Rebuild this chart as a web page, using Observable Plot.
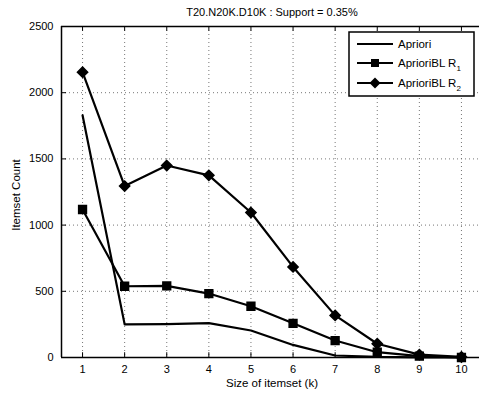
<!DOCTYPE html>
<html>
<head>
<meta charset="utf-8">
<script src="https://cdn.jsdelivr.net/npm/d3@7"></script>
<script src="https://cdn.jsdelivr.net/npm/@observablehq/plot@0.6"></script>
<style>
  html, body { margin: 0; padding: 0; background: #fff; overflow: hidden; }
  #chart svg { display: block; overflow: hidden; }
</style>
</head>
<body>
<div id="chart"></div>
<script>
const sizes = [1, 2, 3, 4, 5, 6, 7, 8, 9, 10];
const apriori = [1830, 250, 252, 260, 204, 95, 15, 4, 1, 0];
const aprioriR1 = [1118, 538, 541, 483, 387, 258, 128, 40, 10, 0];
const aprioriR2 = [2155, 1295, 1450, 1376, 1095, 684, 318, 104, 22, 4];
const yTicks = [0, 500, 1000, 1500, 2000, 2500];
const title = "T20.N20K.D10K : Support = 0.35%";
const xLabel = "Size of itemset (k)";
const yLabel = "Itemset Count";

const toRows = (vals, name) => sizes.map((k, i) => ({k, v: vals[i], name}));
const rowsA = toRows(apriori, "Apriori");
const rows1 = toRows(aprioriR1, "R1");
const rows2 = toRows(aprioriR2, "R2");

const font = "'Liberation Sans', Arial, Helvetica, sans-serif";

const plot = Plot.plot({
  width: 479,
  height: 394,
  marginLeft: 61,
  marginRight: -3,
  marginTop: 26,
  marginBottom: 37,
  style: {fontFamily: font, fontSize: "11px", color: "#000", background: "#fff"},
  x: {domain: [0.5, 10.5]},
  y: {domain: [0, 2500]},
  marks: [
    Plot.gridX(sizes, {stroke: "#666", strokeOpacity: 1, strokeDasharray: "1,3", strokeWidth: 0.9}),
    Plot.gridY(yTicks.slice(1, -1), {stroke: "#666", strokeOpacity: 1, strokeDasharray: "1,3", strokeWidth: 0.9}),
    Plot.axisX(sizes, {anchor: "bottom", tickSize: 0, tickPadding: 8, label: null, fontSize: 11, tickFormat: d3.format("d")}),
    Plot.axisY(yTicks, {anchor: "left", tickSize: 0, tickPadding: 8, label: null, fontSize: 11, tickFormat: d3.format("d")}),
    Plot.ruleX(sizes, {x: d => d, y1: 0, y2: 36, stroke: "#000", strokeWidth: 1}),
    Plot.ruleX(sizes, {x: d => d, y1: 2464, y2: 2500, stroke: "#000", strokeWidth: 1}),
    Plot.ruleY(yTicks, {y: d => d, x1: 0.5, x2: 0.62, stroke: "#000", strokeWidth: 1}),
    Plot.ruleY([0, 2500], {stroke: "#000", strokeWidth: 1.5}),
    Plot.ruleX([0.5], {stroke: "#000", strokeWidth: 1.5}),
    Plot.line(rowsA, {x: "k", y: "v", stroke: "#000", strokeWidth: 2.2}),
    Plot.line(rows1, {x: "k", y: "v", stroke: "#000", strokeWidth: 2.2}),
    Plot.dot(rows1, {x: "k", y: "v", symbol: "square", r: 4.4, fill: "#000", stroke: "#000"}),
    Plot.line(rows2, {x: "k", y: "v", stroke: "#000", strokeWidth: 2.2}),
    Plot.dot(rows2, {x: "k", y: "v", symbol: "diamond2", r: 4.6, fill: "#000", stroke: "#000"})
  ]
});

const svg = d3.select(plot);
// title and axis labels
svg.append("text").attr("x", 272).attr("y", 16).attr("text-anchor", "middle")
  .attr("font-family", font).attr("font-size", 11).attr("fill", "#000").text(title);
svg.append("text").attr("x", 272).attr("y", 387).attr("text-anchor", "middle")
  .attr("font-family", font).attr("font-size", 11.5).attr("fill", "#000").text(xLabel);
svg.append("text").attr("transform", "translate(20,195) rotate(-90)").attr("text-anchor", "middle")
  .attr("font-family", font).attr("font-size", 11.5).attr("fill", "#000").text(yLabel);

// legend
const lg = svg.append("g").attr("font-family", font).attr("font-size", 11.5).attr("text-anchor", "start");
lg.append("rect").attr("x", 349).attr("y", 32).attr("width", 125).attr("height", 64)
  .attr("fill", "#fff").attr("stroke", "#000").attr("stroke-width", 1.5);
const entries = [
  {sym: null, y: 44, plain: "Apriori"},
  {label: "AprioriBL R", sub: "1", sym: "square", y: 63},
  {label: "AprioriBL R", sub: "2", sym: "diamond", y: 83}
];
entries.forEach(e => {
  lg.append("line").attr("x1", 357).attr("x2", 393).attr("y1", e.y).attr("y2", e.y)
    .attr("stroke", "#000").attr("stroke-width", 2.2);
  if (e.sym === "square") {
    lg.append("rect").attr("x", 371).attr("y", e.y - 4).attr("width", 8).attr("height", 8).attr("fill", "#000");
  } else if (e.sym === "diamond") {
    lg.append("path").attr("d", `M375,${e.y - 5.5}L380.5,${e.y}L375,${e.y + 5.5}L369.5,${e.y}Z`).attr("fill", "#000");
  }
  const t = lg.append("text").attr("x", 398).attr("y", e.y + 4).attr("fill", "#000").attr("text-anchor", "start");
  if (e.plain) { t.text(e.plain); }
  else {
    t.append("tspan").text(e.label);
    t.append("tspan").attr("font-size", 8).attr("dy", 4).text(e.sub);
  }
});

document.getElementById("chart").appendChild(plot);
</script>
</body>
</html>
